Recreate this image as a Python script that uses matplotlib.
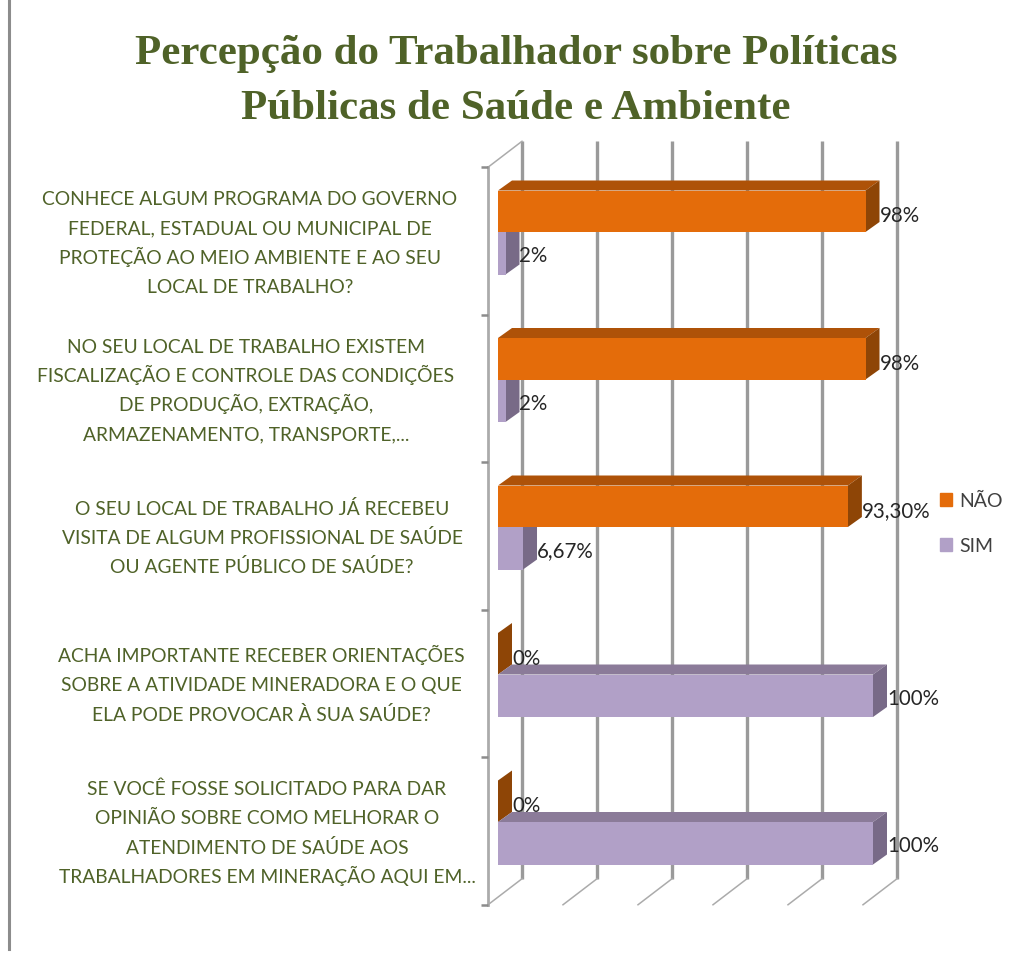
import matplotlib
matplotlib.use("Agg")
import matplotlib.pyplot as plt
from matplotlib.patches import Patch

# data
title_lines = ["Percepção do Trabalhador sobre Políticas", "Públicas de Saúde e Ambiente"]
categories = [
    "CONHECE ALGUM PROGRAMA DO GOVERNO\nFEDERAL, ESTADUAL OU MUNICIPAL DE\nPROTEÇÃO AO MEIO AMBIENTE E AO SEU\nLOCAL DE TRABALHO?",
    "NO SEU LOCAL DE TRABALHO EXISTEM\nFISCALIZAÇÃO E CONTROLE DAS CONDIÇÕES\nDE PRODUÇÃO, EXTRAÇÃO,\nARMAZENAMENTO, TRANSPORTE,...",
    "O SEU LOCAL DE TRABALHO JÁ RECEBEU\nVISITA DE ALGUM PROFISSIONAL DE SAÚDE\nOU AGENTE PÚBLICO DE SAÚDE?",
    "ACHA IMPORTANTE RECEBER ORIENTAÇÕES\nSOBRE A ATIVIDADE MINERADORA E O QUE\nELA PODE PROVOCAR À SUA SAÚDE?",
    "SE VOCÊ FOSSE SOLICITADO PARA DAR\nOPINIÃO SOBRE COMO MELHORAR O\nATENDIMENTO DE SAÚDE AOS\nTRABALHADORES EM MINERAÇÃO AQUI EM...",
]
nao_values = [98, 98, 93.3, 0, 0]
sim_values = [2, 2, 6.67, 100, 100]
nao_labels = ["98%", "98%", "93,30%", "0%", "0%"]
sim_labels = ["2%", "2%", "6,67%", "100%", "100%"]
x_ticks = [0, 20, 40, 60, 80, 100]

# colours
GREEN = "#4F6228"
ORANGE, ORANGE_TOP, ORANGE_SIDE = "#E46C0A", "#AE5208", "#8E4506"
PURPLE, PURPLE_TOP, PURPLE_SIDE = "#B1A0C7", "#8B7B99", "#786A87"
GRID = "#9A9A9A"
AXIS = "#ABABAB"

W, H = 1017, 954
PX_X = 3.75    # pixels per percent
PX_Y = 147.5   # pixels per category
NAO_H = 41.5 / PX_Y
SIM_H = 42.5 / PX_Y
LINE_PX = 29.3
label_centers = [250, 246, 262, 261, 267]  # pixel x of each label block


def dx(px):
    return px / PX_X


def dy(px):
    return px / PX_Y


fig = plt.figure(figsize=(W / 100, H / 100), dpi=100)
fig.patch.set_facecolor("white")
ax = fig.add_axes([498 / W, 1 - 896.75 / H, 375 / W, 737.5 / H])
ax.set_xlim(0, 100)
ax.set_ylim(4.5, -0.5)
ax.axis("off")

for line, base in zip(title_lines, [64, 119]):
    fig.text(516 / W, 1 - base / H, line, ha="center", va="baseline", fontsize=31,
             fontweight="bold", family="Liberation Serif", color=GREEN)

# walls: front axis, back gridlines and floor lines
y_top, y_bot = -0.5, 4.5
fx, fy = dx(-10), dy(9)
bx, by = dx(24), dy(-17)
for t in x_ticks:
    ax.plot([t + bx, t + bx], [y_top + by, y_bot + by], color=GRID, lw=2.4,
            clip_on=False, zorder=1, solid_capstyle="butt")
    ax.plot([t + fx, t + bx], [y_bot + fy, y_bot + by], color=AXIS, lw=1.1,
            clip_on=False, zorder=1)
ax.plot([fx, fx], [y_top + fy, y_bot + fy], color=AXIS, lw=2, clip_on=False, zorder=1)
ax.plot([fx, bx], [y_top + fy, y_top + by], color=AXIS, lw=1.1, clip_on=False, zorder=1)
for i in range(len(categories) + 1):
    ax.plot([fx - dx(7), fx], [y_top + i + fy, y_top + i + fy], color="#8C8C8C",
            lw=1.8, clip_on=False, zorder=1, solid_capstyle="butt")


def draw_bar(value, y0, y1, front, top, side, z):
    ox, oy = dx(14), dy(-10)
    ax.fill([0, ox, value + ox, value], [y0, y0 + oy, y0 + oy, y0], color=top,
            lw=0, zorder=z, clip_on=False)
    ax.fill([value, value + ox, value + ox, value],
            [y0, y0 + oy, y1 + oy, y1], color=side, lw=0, zorder=z, clip_on=False)
    ax.barh((y0 + y1) / 2, value, height=y1 - y0, color=front, lw=0, zorder=z,
            clip_on=False)


for i in range(len(categories)):
    draw_bar(nao_values[i], i - NAO_H, i, ORANGE, ORANGE_TOP, ORANGE_SIDE, 2)
    draw_bar(sim_values[i], i, i + SIM_H, PURPLE, PURPLE_TOP, PURPLE_SIDE,
             3 if sim_values[i] > 50 else 1.5)

for i, cat in enumerate(categories):
    lines = cat.split("\n")
    for k, line in enumerate(lines):
        off = (k - (len(lines) - 1) / 2) * LINE_PX + 9.5 + 6.5
        ax.text(dx(label_centers[i] - 498), i + dy(off), line, ha="center", va="baseline",
                fontsize=13.9, family="Lato", color=GREEN, clip_on=False)
    ax.text(nao_values[i] + dx(14), i - NAO_H / 2 + dy(4), nao_labels[i], ha="left",
            va="center", fontsize=14.8, family="Lato", color="#262626", zorder=5)
    ax.text(sim_values[i] + dx(14), i + SIM_H / 2 + dy(2), sim_labels[i], ha="left",
            va="center", fontsize=14.8, family="Lato", color="#262626", zorder=5)

handles = [Patch(color=ORANGE, label="NÃO"), Patch(color=PURPLE, label="SIM")]
fig.legend(handles=handles, loc="center left", bbox_to_anchor=(922 / W, 1 - 524 / H),
           frameon=False, prop={"family": "Lato", "size": 14}, labelcolor="#404040",
           handlelength=0.65, handleheight=0.65, handletextpad=0.35, labelspacing=1.45)

# picture border on the left
fig.add_artist(plt.Line2D([9 / W, 9 / W], [1 - 950 / H, 1], color="#8C8C8C", lw=2.2))

fig.savefig("out.png", dpi=100, facecolor="white")
